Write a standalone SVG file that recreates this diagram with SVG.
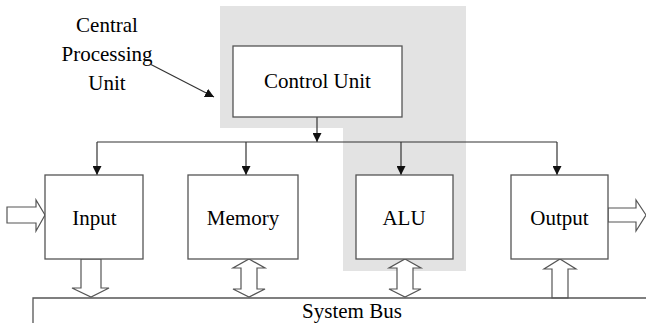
<svg xmlns="http://www.w3.org/2000/svg" width="646" height="323" viewBox="0 0 646 323">
<style>
.box{fill:#fff;stroke:#555;stroke-width:1.3}
.ln{fill:none;stroke:#333;stroke-width:1.2}
.blk{fill:#fff;stroke:#555;stroke-width:1.2;stroke-linejoin:miter}
text{font-family:"Liberation Serif","Times New Roman",serif;font-size:21px;fill:#000;text-anchor:middle}
</style>
<defs>
<marker id="ah" viewBox="0 0 10 10" refX="10" refY="5" markerWidth="9" markerHeight="9" markerUnits="userSpaceOnUse" orient="auto">
<path d="M0,0 L10,5 L0,10 z" fill="#111"/>
</marker>
</defs>
<rect width="646" height="323" fill="#fff"/>
<polygon id="cpu-region" points="220,6 466,6 466,271 343,271 343,128 220,128" fill="#e3e3e3"/>
<g id="cpu-label">
<text x="107" y="32">Central</text>
<text x="107" y="61">Processing</text>
<text x="107" y="90">Unit</text>
</g>
<g id="connectors">
<line class="ln" x1="150" y1="64" x2="214" y2="97" marker-end="url(#ah)"/>
<line class="ln" x1="317" y1="117" x2="317" y2="142" marker-end="url(#ah)"/>
<line class="ln" x1="97" y1="142" x2="557" y2="142"/>
<line class="ln" x1="97" y1="142" x2="97" y2="175" marker-end="url(#ah)"/>
<line class="ln" x1="246" y1="142" x2="246" y2="175" marker-end="url(#ah)"/>
<line class="ln" x1="401" y1="142" x2="401" y2="175" marker-end="url(#ah)"/>
<line class="ln" x1="557" y1="142" x2="557" y2="175" marker-end="url(#ah)"/>
<polygon class="blk" points="7,207 36,207 36,200 45,215 36,231 36,223 7,223"/>
<polygon class="blk" points="608,208 636,208 636,200 646,215 636,231 636,222 608,222"/>
<polygon class="blk" points="81,259 101,259 101,288 109,288 91,297 72,288 81,288"/>
<polygon class="blk" points="249,259 265,268 257,268 257,289 265,289 249,297 233,289 241,289 241,268 233,268"/>
<polygon class="blk" points="405,259 421,268 413,268 413,289 421,289 405,297 389,289 397,289 397,268 389,268"/>
<polygon class="blk" points="560,259 576,269 568,269 568,298 552,298 552,269 544,269"/>
</g>
<g id="system-bus">
<polyline points="33,323 33,298 646,298" fill="none" stroke="#555" stroke-width="1.3"/>
<text x="352" y="318">System Bus</text>
</g>
<g id="control-unit">
<rect class="box" x="233" y="46" width="169" height="71"/>
<text x="317.5" y="88">Control Unit</text>
</g>
<g id="input">
<rect class="box" x="45" y="175" width="98" height="84"/>
<text x="94.5" y="225">Input</text>
</g>
<g id="memory">
<rect class="box" x="188" y="175" width="110" height="84"/>
<text x="243" y="225">Memory</text>
</g>
<g id="alu">
<rect class="box" x="356" y="175" width="97" height="84"/>
<text x="404" y="225">ALU</text>
</g>
<g id="output">
<rect class="box" x="511" y="175" width="97" height="84"/>
<text x="559.5" y="225">Output</text>
</g>
</svg>
